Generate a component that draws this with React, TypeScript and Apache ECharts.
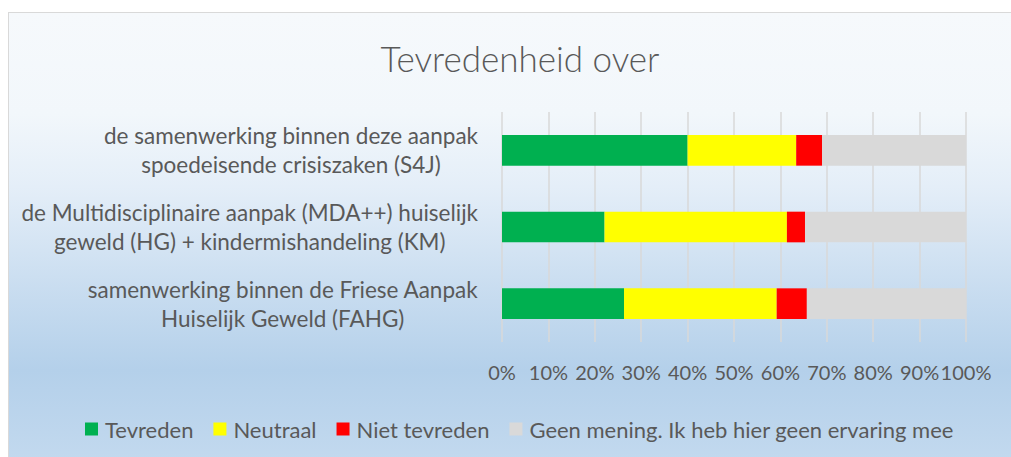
import React, { useEffect, useRef } from "react";
import * as echarts from "echarts";

const categories = [
  "samenwerking binnen de Friese Aanpak\nHuiselijk Geweld (FAHG)",
  "de Multidisciplinaire aanpak (MDA++) huiselijk\ngeweld (HG) + kindermishandeling (KM)",
  "de samenwerking binnen deze aanpak\nspoedeisende crisiszaken (S4J)",
];
const seriesNames = ["Tevreden", "Neutraal", "Niet tevreden", "Geen mening. Ik heb hier geen ervaring mee"];
const tevreden = [26.3, 22.1, 40.0];
const neutraal = [32.9, 39.3, 23.4];
const nietTevreden = [6.5, 3.9, 5.6];
const geenMening = [34.3, 34.7, 31.0];
const colors = ["#00b050", "#ffff00", "#ff0000", "#d9d9d9"];

const FONT = "Lato";
const TEXT = "#595959";

export default function App() {
  const ref = useRef<HTMLDivElement>(null);
  useEffect(() => {
    if (!ref.current) return;
    const chart = echarts.init(ref.current, null, { renderer: "svg" });
    const values = [tevreden, neutraal, nietTevreden, geenMening];
    chart.setOption({
      animation: false,
      title: {
        text: "Tevredenheid over",
        left: 515,
        textAlign: "center",
        top: 35,
        textStyle: { fontFamily: FONT, fontWeight: 300, fontSize: 35, color: TEXT },
      },
      legend: {
        left: 80,
        top: 413,
        itemWidth: 13,
        itemHeight: 13,
        itemGap: 20,
        icon: "rect",
        textStyle: { fontFamily: FONT, fontSize: 22, color: TEXT, padding: [0, 0, 0, 2] },
        data: seriesNames,
      },
      grid: { left: 502, right: 45, top: 112, bottom: 115 },
      xAxis: {
        type: "value",
        min: 0,
        max: 100,
        interval: 10,
        axisLine: { show: false },
        axisTick: { show: false },
        axisLabel: {
          formatter: "{value}%",
          fontFamily: FONT,
          fontSize: 20,
          color: TEXT,
          margin: 20,
          showMinLabel: true,
          showMaxLabel: true,
          hideOverlap: false,
        },
        splitLine: { show: true, lineStyle: { color: "#d9d9d9", width: 1.5 } },
      },
      yAxis: {
        type: "category",
        data: categories,
        axisLine: { show: false },
        axisTick: { show: false },
        axisLabel: {
          margin: 24,
          align: "right",
          formatter: (v: string) =>
            v
              .split("\n")
              .map((l) => `{c|${l}}`)
              .join("\n"),
          rich: {
            c: { align: "center", fontFamily: FONT, fontSize: 22.5, color: TEXT, lineHeight: 29 },
          },
        },
      },
      series: seriesNames.map((name, i) => ({
        name,
        type: "bar",
        stack: "total",
        barCategoryGap: "60%",
        itemStyle: { color: colors[i] },
        data: values[i],
      })),
    });
    return () => chart.dispose();
  }, []);
  return (
    <div style={{ position: "absolute", left: 0, top: 0, width: 1011, height: 457, overflow: "hidden", background: "#fff" }}>
      <div
        style={{
          position: "absolute",
          left: 8,
          top: 12,
          width: 1030,
          height: 460,
          border: "1.5px solid #d9d9d9",
          boxSizing: "border-box",
          background:
            "linear-gradient(to bottom, #f6f9fc 0%, #f2f7fb 22%, #e4eef8 38%, #c9ddf0 60%, #b4d0ea 78%, #c4daef 100%)",
        }}
      />
      <div ref={ref} style={{ position: "absolute", left: 0, top: 0, width: 1011, height: 457 }} />
    </div>
  );
}
